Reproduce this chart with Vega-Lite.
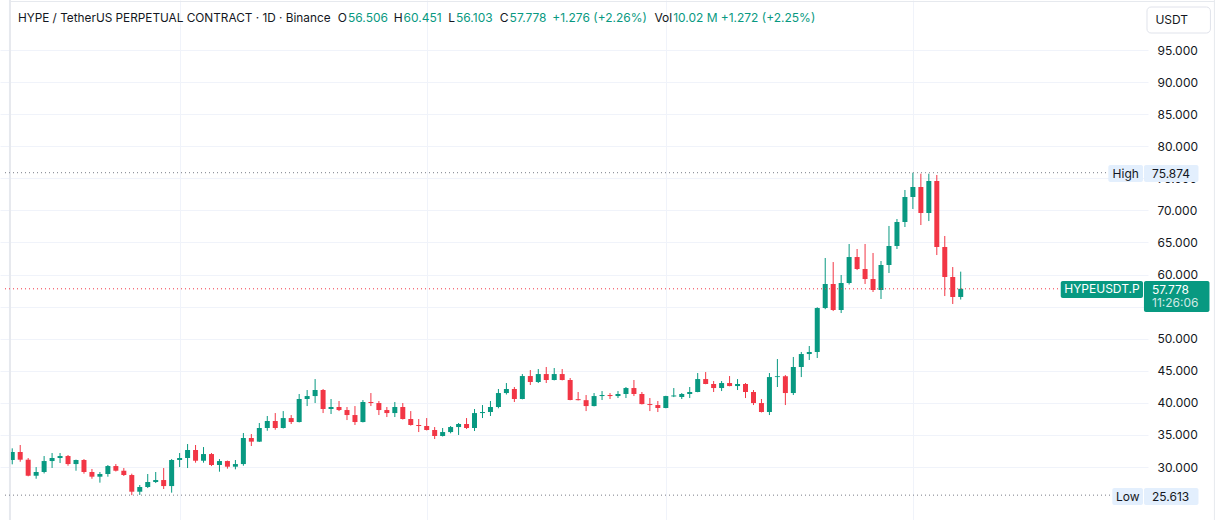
{
  "$schema": "https://vega.github.io/schema/vega-lite/v6.json",
  "width": 1148,
  "height": 520,
  "autosize": {"type": "none"},
  "padding": {"left": 0, "top": 0, "right": 82, "bottom": 0},
  "background": "#ffffff",
  "config": {"view": {"stroke": null}, "text": {"font": "Inter"}},
  "resolve": {"axis": {"x": "independent", "y": "independent"}},
  "datasets": {
    "candles": [
      {"i":1,"o":31.09,"h":32.91,"l":30.42,"c":32.34},
      {"i":2,"o":32.34,"h":33.43,"l":30.82,"c":31.14},
      {"i":3,"o":31.14,"h":31.40,"l":28.55,"c":28.64},
      {"i":4,"o":28.64,"h":29.99,"l":28.17,"c":29.22},
      {"i":5,"o":29.22,"h":31.71,"l":29.00,"c":30.93},
      {"i":6,"o":30.93,"h":32.18,"l":29.85,"c":31.40},
      {"i":7,"o":31.40,"h":32.18,"l":30.62,"c":31.71},
      {"i":8,"o":31.71,"h":31.87,"l":30.20,"c":30.46},
      {"i":9,"o":30.46,"h":31.15,"l":29.42,"c":31.09},
      {"i":10,"o":31.09,"h":31.24,"l":28.96,"c":29.22},
      {"i":11,"o":29.22,"h":29.69,"l":28.17,"c":28.49},
      {"i":12,"o":28.49,"h":29.22,"l":27.56,"c":28.91},
      {"i":13,"o":28.91,"h":30.31,"l":28.49,"c":30.15},
      {"i":14,"o":30.15,"h":30.46,"l":29.30,"c":29.42},
      {"i":15,"o":29.42,"h":29.84,"l":28.60,"c":28.75},
      {"i":16,"o":28.75,"h":28.96,"l":25.613,"c":26.15},
      {"i":17,"o":26.15,"h":27.19,"l":25.65,"c":26.88},
      {"i":18,"o":26.88,"h":28.91,"l":26.72,"c":27.66},
      {"i":19,"o":27.66,"h":29.22,"l":27.50,"c":27.97},
      {"i":20,"o":27.97,"h":29.84,"l":26.57,"c":27.03},
      {"i":21,"o":27.03,"h":31.24,"l":26.00,"c":31.09},
      {"i":22,"o":31.09,"h":32.18,"l":29.99,"c":31.40},
      {"i":23,"o":31.40,"h":33.58,"l":29.84,"c":32.65},
      {"i":24,"o":32.65,"h":33.43,"l":30.67,"c":30.98},
      {"i":25,"o":30.98,"h":33.11,"l":30.67,"c":32.02},
      {"i":26,"o":32.02,"h":32.18,"l":30.15,"c":30.31},
      {"i":27,"o":30.31,"h":31.24,"l":29.27,"c":30.93},
      {"i":28,"o":30.93,"h":31.00,"l":29.74,"c":30.05},
      {"i":29,"o":30.05,"h":31.09,"l":29.64,"c":30.46},
      {"i":30,"o":30.46,"h":35.30,"l":30.20,"c":34.52},
      {"i":31,"o":34.52,"h":35.14,"l":33.27,"c":33.95},
      {"i":32,"o":33.95,"h":36.86,"l":33.90,"c":36.08},
      {"i":33,"o":36.08,"h":37.95,"l":35.65,"c":37.17},
      {"i":34,"o":37.17,"h":38.41,"l":35.81,"c":36.08},
      {"i":35,"o":36.08,"h":38.72,"l":36.00,"c":37.63},
      {"i":36,"o":37.63,"h":38.10,"l":36.70,"c":37.01},
      {"i":37,"o":37.01,"h":41.38,"l":36.95,"c":40.60},
      {"i":38,"o":40.60,"h":42.00,"l":39.50,"c":41.06},
      {"i":39,"o":41.06,"h":43.71,"l":39.97,"c":42.00},
      {"i":40,"o":42.00,"h":42.16,"l":38.41,"c":39.04},
      {"i":41,"o":39.04,"h":40.60,"l":38.26,"c":39.35},
      {"i":42,"o":39.35,"h":40.29,"l":38.72,"c":38.88},
      {"i":43,"o":38.88,"h":39.35,"l":37.32,"c":38.10},
      {"i":44,"o":38.10,"h":39.50,"l":36.55,"c":37.01},
      {"i":45,"o":37.01,"h":40.44,"l":36.95,"c":40.13},
      {"i":46,"o":40.13,"h":41.53,"l":39.50,"c":39.97},
      {"i":47,"o":39.97,"h":40.29,"l":38.10,"c":38.88},
      {"i":48,"o":38.88,"h":39.35,"l":37.79,"c":38.41},
      {"i":49,"o":38.41,"h":40.13,"l":37.79,"c":39.35},
      {"i":50,"o":39.35,"h":39.97,"l":37.40,"c":37.48},
      {"i":51,"o":37.48,"h":38.72,"l":36.45,"c":36.55},
      {"i":52,"o":36.55,"h":37.48,"l":35.45,"c":36.39},
      {"i":53,"o":36.39,"h":37.63,"l":35.70,"c":35.77},
      {"i":54,"o":35.77,"h":36.23,"l":34.36,"c":34.83},
      {"i":55,"o":34.83,"h":36.08,"l":34.76,"c":35.45},
      {"i":56,"o":35.45,"h":36.39,"l":35.25,"c":36.23},
      {"i":57,"o":36.23,"h":36.86,"l":34.99,"c":36.70},
      {"i":58,"o":36.70,"h":37.63,"l":35.92,"c":36.08},
      {"i":59,"o":36.08,"h":39.04,"l":35.61,"c":38.41},
      {"i":60,"o":38.41,"h":39.66,"l":37.63,"c":38.57},
      {"i":61,"o":38.57,"h":40.29,"l":37.95,"c":39.35},
      {"i":62,"o":39.35,"h":42.16,"l":39.15,"c":41.53},
      {"i":63,"o":41.53,"h":43.09,"l":41.30,"c":42.16},
      {"i":64,"o":42.16,"h":42.47,"l":40.13,"c":40.60},
      {"i":65,"o":40.60,"h":44.49,"l":40.55,"c":44.18},
      {"i":66,"o":44.18,"h":45.12,"l":42.78,"c":43.25},
      {"i":67,"o":43.25,"h":45.27,"l":43.09,"c":44.49},
      {"i":68,"o":44.49,"h":45.59,"l":43.09,"c":43.56},
      {"i":69,"o":43.56,"h":45.43,"l":43.50,"c":44.49},
      {"i":70,"o":44.49,"h":45.27,"l":43.50,"c":43.56},
      {"i":71,"o":43.56,"h":43.87,"l":40.40,"c":40.44},
      {"i":72,"o":40.58,"h":41.69,"l":40.38,"c":40.42},
      {"i":73,"o":40.42,"h":41.22,"l":38.72,"c":39.50},
      {"i":74,"o":39.50,"h":41.53,"l":39.45,"c":41.06},
      {"i":75,"o":41.06,"h":41.84,"l":40.44,"c":41.22},
      {"i":76,"o":41.22,"h":41.53,"l":40.60,"c":41.06},
      {"i":77,"o":41.06,"h":41.84,"l":40.75,"c":41.38},
      {"i":78,"o":41.38,"h":42.47,"l":40.75,"c":42.31},
      {"i":79,"o":42.31,"h":43.56,"l":41.06,"c":41.38},
      {"i":80,"o":41.38,"h":41.69,"l":39.75,"c":39.81},
      {"i":81,"o":39.81,"h":40.75,"l":38.72,"c":39.66},
      {"i":82,"o":39.66,"h":40.29,"l":38.57,"c":39.20},
      {"i":83,"o":39.20,"h":41.10,"l":39.15,"c":41.06},
      {"i":84,"o":41.00,"h":42.31,"l":40.90,"c":41.15},
      {"i":85,"o":40.91,"h":41.53,"l":40.60,"c":41.38},
      {"i":86,"o":41.38,"h":42.47,"l":40.75,"c":41.69},
      {"i":87,"o":41.69,"h":44.65,"l":41.65,"c":43.71},
      {"i":88,"o":43.71,"h":44.80,"l":42.90,"c":42.94},
      {"i":89,"o":42.94,"h":43.40,"l":41.69,"c":42.31},
      {"i":90,"o":42.31,"h":43.40,"l":41.84,"c":43.09},
      {"i":91,"o":43.09,"h":44.18,"l":42.58,"c":42.62},
      {"i":92,"o":42.62,"h":43.71,"l":42.00,"c":42.94},
      {"i":93,"o":42.94,"h":43.09,"l":40.75,"c":41.69},
      {"i":94,"o":41.69,"h":42.00,"l":39.66,"c":39.97},
      {"i":95,"o":39.97,"h":40.60,"l":38.50,"c":38.57},
      {"i":96,"o":38.57,"h":44.65,"l":38.10,"c":44.02},
      {"i":97,"o":44.02,"h":46.83,"l":42.47,"c":44.15},
      {"i":98,"o":44.15,"h":44.33,"l":39.66,"c":41.53},
      {"i":99,"o":41.53,"h":47.15,"l":41.22,"c":45.59},
      {"i":100,"o":45.59,"h":47.93,"l":44.02,"c":47.61},
      {"i":101,"o":47.61,"h":48.86,"l":46.68,"c":47.93},
      {"i":102,"o":47.93,"h":54.90,"l":46.99,"c":54.78},
      {"i":103,"o":54.78,"h":62.58,"l":54.60,"c":58.53},
      {"i":104,"o":58.53,"h":61.95,"l":54.31,"c":54.47},
      {"i":105,"o":54.47,"h":59.93,"l":54.00,"c":58.68},
      {"i":106,"o":58.68,"h":64.76,"l":58.45,"c":62.73},
      {"i":107,"o":62.73,"h":63.98,"l":60.70,"c":60.86},
      {"i":108,"o":60.86,"h":64.76,"l":58.53,"c":59.30},
      {"i":109,"o":59.30,"h":63.36,"l":57.28,"c":57.59},
      {"i":110,"o":57.59,"h":62.11,"l":56.19,"c":61.49},
      {"i":111,"o":61.49,"h":67.57,"l":60.24,"c":64.45},
      {"i":112,"o":64.45,"h":68.66,"l":63.98,"c":68.19},
      {"i":113,"o":68.19,"h":73.18,"l":67.41,"c":72.09},
      {"i":114,"o":72.09,"h":75.874,"l":70.22,"c":73.65},
      {"i":115,"o":73.65,"h":75.72,"l":67.72,"c":69.59},
      {"i":116,"o":69.59,"h":75.72,"l":68.34,"c":74.58},
      {"i":117,"o":74.58,"h":75.52,"l":63.04,"c":64.29},
      {"i":118,"o":64.29,"h":66.01,"l":56.65,"c":59.62},
      {"i":119,"o":59.62,"h":61.17,"l":55.41,"c":56.502},
      {"i":120,"o":56.506,"h":60.451,"l":56.103,"c":57.778}
    ]
  },
  "data": {"name": "candles"},
  "layer": [
    {
      "mark": {"type": "rule", "strokeWidth": 1},
      "encoding": {
        "x": {"field": "i", "type": "quantitative", "title": null,
              "scale": {"domain": [0.092, 142.87], "nice": false, "zero": false},
              "axis": {"values": [22, 53, 83, 114], "labels": false, "ticks": false, "domain": false, "grid": true, "gridColor": "#f0f3fa", "gridWidth": 1, "title": null}},
        "y": {"field": "h", "type": "quantitative", "title": null,
              "scale": {"domain": [21.74, 102.794], "nice": false, "zero": false},
              "axis": {"orient": "right", "values": [30,35,40,45,50,55,60,65,70,75,80,85,90,95], "labelExpr": "datum.value == 55 ? '' : format(datum.value, '.3f')", "title": null, "ticks": false, "domain": false, "labelPadding": 9, "labelFontSize": 12, "labelFont": "Inter", "labelColor": "#131722", "labelAlign": "left", "labelBaseline": "middle", "labelOverlap": false, "labelFlush": false, "grid": true, "gridColor": "#f0f3fa", "gridWidth": 1}},
        "y2": {"field": "l"},
        "color": {"condition": {"test": "datum.c >= datum.o", "value": "#089981"}, "value": "#f23645"}
      }
    },
    {
      "mark": {"type": "bar", "width": 5},
      "encoding": {
        "x": {"field": "i", "type": "quantitative", "title": null, "axis": null},
        "y": {"field": "o", "type": "quantitative", "title": null, "axis": null},
        "y2": {"field": "c"},
        "color": {"condition": {"test": "datum.c >= datum.o", "value": "#089981"}, "value": "#f23645"}
      }
    },
    {
      "data": {"values": [{}]},
      "mark": {"type": "rule", "color": "#e6e9ee", "strokeWidth": 2},
      "encoding": {
        "x": {"datum": 0.714, "type": "quantitative", "axis": null},
        "y": {"datum": 21.74, "type": "quantitative", "axis": null},
        "y2": {"datum": 102.794}
      }
    },
    {
      "data": {"values": [{}]},
      "mark": {"type": "rule", "color": "#e6e9ee", "strokeWidth": 1},
      "encoding": {
        "x": {"datum": 151.83, "type": "quantitative", "axis": null},
        "y": {"datum": 21.74, "type": "quantitative", "axis": null},
        "y2": {"datum": 102.794}
      }
    },
    {
      "data": {"values": [{}]},
      "mark": {"type": "rule", "color": "#e6e9ee", "strokeWidth": 1},
      "encoding": {
        "x": {"datum": 0.714, "type": "quantitative", "axis": null},
        "x2": {"datum": 151.83},
        "y": {"datum": 102.56, "type": "quantitative", "axis": null}
      }
    },
    {
      "transform": [{"aggregate": [{"op": "max", "field": "h", "as": "hi"}, {"op": "min", "field": "l", "as": "lo"}]}],
      "layer": [
        {
          "mark": {"type": "rule", "color": "#787b86", "strokeDash": [1, 3], "strokeWidth": 1},
          "encoding": {
            "x": {"datum": 0.092, "type": "quantitative", "axis": null},
            "x2": {"datum": 138.52},
            "y": {"field": "hi", "type": "quantitative", "title": null, "axis": null}
          }
        },
        {
          "mark": {"type": "rule", "color": "#787b86", "strokeDash": [1, 3], "strokeWidth": 1},
          "encoding": {
            "x": {"datum": 0.092, "type": "quantitative", "axis": null},
            "x2": {"datum": 139.02},
            "y": {"field": "lo", "type": "quantitative", "title": null, "axis": null}
          }
        },
        {
          "mark": {"type": "rect", "color": "#e3effd", "cornerRadius": 2},
          "encoding": {
            "x": {"datum": 138.52, "type": "quantitative", "axis": null},
            "x2": {"datum": 142.87},
            "y": {"datum": 77.07, "type": "quantitative", "axis": null},
            "y2": {"datum": 74.42}
          }
        },
        {
          "mark": {"type": "rect", "color": "#e3effd", "cornerRadius": 2},
          "encoding": {
            "x": {"datum": 142.99, "type": "quantitative", "axis": null},
            "x2": {"datum": 149.83},
            "y": {"datum": 77.07, "type": "quantitative", "axis": null},
            "y2": {"datum": 74.42}
          }
        },
        {
          "mark": {"type": "rect", "color": "#e3effd", "cornerRadius": 2},
          "encoding": {
            "x": {"datum": 139.02, "type": "quantitative", "axis": null},
            "x2": {"datum": 142.87},
            "y": {"datum": 26.72, "type": "quantitative", "axis": null},
            "y2": {"datum": 24.07}
          }
        },
        {
          "mark": {"type": "rect", "color": "#e3effd", "cornerRadius": 2},
          "encoding": {
            "x": {"datum": 142.99, "type": "quantitative", "axis": null},
            "x2": {"datum": 149.83},
            "y": {"datum": 26.72, "type": "quantitative", "axis": null},
            "y2": {"datum": 24.07}
          }
        },
        {
          "mark": {"type": "text", "align": "center", "baseline": "middle", "fontSize": 12, "color": "#131722"},
          "encoding": {
            "x": {"datum": 140.70, "type": "quantitative", "axis": null},
            "y": {"datum": 75.75, "type": "quantitative", "axis": null},
            "text": {"value": "High"}
          }
        },
        {
          "mark": {"type": "text", "align": "left", "baseline": "middle", "fontSize": 12, "color": "#131722"},
          "encoding": {
            "x": {"datum": 144.0, "type": "quantitative", "axis": null},
            "y": {"datum": 75.75, "type": "quantitative", "axis": null},
            "text": {"field": "hi", "type": "quantitative", "format": ".3f"}
          }
        },
        {
          "mark": {"type": "text", "align": "center", "baseline": "middle", "fontSize": 12, "color": "#131722"},
          "encoding": {
            "x": {"datum": 140.95, "type": "quantitative", "axis": null},
            "y": {"datum": 25.40, "type": "quantitative", "axis": null},
            "text": {"value": "Low"}
          }
        },
        {
          "mark": {"type": "text", "align": "left", "baseline": "middle", "fontSize": 12, "color": "#131722"},
          "encoding": {
            "x": {"datum": 144.0, "type": "quantitative", "axis": null},
            "y": {"datum": 25.40, "type": "quantitative", "axis": null},
            "text": {"field": "lo", "type": "quantitative", "format": ".3f"}
          }
        }
      ]
    },
    {
      "transform": [{"filter": "datum.i == 120"}],
      "layer": [
        {
          "mark": {"type": "rule", "color": "#f23645", "strokeDash": [1, 3], "strokeWidth": 1},
          "encoding": {
            "x": {"datum": 0.092, "type": "quantitative", "axis": null},
            "x2": {"datum": 132.55},
            "y": {"field": "c", "type": "quantitative", "title": null, "axis": null}
          }
        },
        {
          "mark": {"type": "rect", "color": "#089981", "cornerRadius": 2},
          "encoding": {
            "x": {"datum": 132.55, "type": "quantitative", "axis": null},
            "x2": {"datum": 142.87},
            "y": {"datum": 58.99, "type": "quantitative", "axis": null},
            "y2": {"datum": 56.34}
          }
        },
        {
          "mark": {"type": "rect", "color": "#089981", "cornerRadius": 2},
          "encoding": {
            "x": {"datum": 142.99, "type": "quantitative", "axis": null},
            "x2": {"datum": 151.21},
            "y": {"datum": 58.99, "type": "quantitative", "axis": null},
            "y2": {"datum": 54.16}
          }
        },
        {
          "mark": {"type": "text", "align": "center", "baseline": "middle", "fontSize": 12, "color": "#ffffff"},
          "encoding": {
            "x": {"datum": 137.72, "type": "quantitative", "axis": null},
            "y": {"datum": 57.67, "type": "quantitative", "axis": null},
            "text": {"value": "HYPEUSDT.P"}
          }
        },
        {
          "mark": {"type": "text", "align": "left", "baseline": "middle", "fontSize": 12, "color": "#ffffff"},
          "encoding": {
            "x": {"datum": 144.0, "type": "quantitative", "axis": null},
            "y": {"datum": 57.59, "type": "quantitative", "axis": null},
            "text": {"field": "c", "type": "quantitative", "format": ".3f"}
          }
        },
        {
          "mark": {"type": "text", "align": "left", "baseline": "middle", "fontSize": 12, "color": "#ffffff", "opacity": 0.8},
          "encoding": {
            "x": {"datum": 144.0, "type": "quantitative", "axis": null},
            "y": {"datum": 55.49, "type": "quantitative", "axis": null},
            "text": {"value": "11:26:06"}
          }
        },
        {
          "mark": {"type": "text", "align": "left", "baseline": "middle", "fontSize": 12, "color": "#089981"},
          "encoding": {
            "x": {"datum": 43.13, "type": "quantitative", "axis": null},
            "y": {"datum": 99.99, "type": "quantitative", "axis": null},
            "text": {"field": "o", "type": "quantitative", "format": ".3f"}
          }
        },
        {
          "mark": {"type": "text", "align": "left", "baseline": "middle", "fontSize": 12, "color": "#089981"},
          "encoding": {
            "x": {"datum": 50.09, "type": "quantitative", "axis": null},
            "y": {"datum": 99.99, "type": "quantitative", "axis": null},
            "text": {"field": "h", "type": "quantitative", "format": ".3f"}
          }
        },
        {
          "mark": {"type": "text", "align": "left", "baseline": "middle", "fontSize": 12, "color": "#089981"},
          "encoding": {
            "x": {"datum": 56.68, "type": "quantitative", "axis": null},
            "y": {"datum": 99.99, "type": "quantitative", "axis": null},
            "text": {"field": "l", "type": "quantitative", "format": ".3f"}
          }
        },
        {
          "mark": {"type": "text", "align": "left", "baseline": "middle", "fontSize": 12, "color": "#089981"},
          "encoding": {
            "x": {"datum": 63.40, "type": "quantitative", "axis": null},
            "y": {"datum": 99.99, "type": "quantitative", "axis": null},
            "text": {"field": "c", "type": "quantitative", "format": ".3f"}
          }
        }
      ]
    },
    {
      "data": {"values": [{}]},
      "layer": [
        {
          "mark": {"type": "rect", "fill": "#ffffff", "stroke": "#e0e3eb", "strokeWidth": 1, "cornerRadius": 4},
          "encoding": {
            "x": {"datum": 143.37, "type": "quantitative", "axis": null},
            "x2": {"datum": 151.33},
            "y": {"datum": 101.70, "type": "quantitative", "axis": null},
            "y2": {"datum": 97.65}
          }
        },
        {
          "mark": {"type": "text", "align": "center", "baseline": "middle", "fontSize": 12, "color": "#131722"},
          "encoding": {
            "x": {"datum": 146.48, "type": "quantitative", "axis": null},
            "y": {"datum": 99.68, "type": "quantitative", "axis": null},
            "text": {"value": "USDT"}
          }
        },
        {
          "mark": {"type": "text", "align": "left", "baseline": "middle", "fontSize": 11.8, "color": "#131722"},
          "encoding": {
            "x": {"datum": 1.709, "type": "quantitative", "axis": null},
            "y": {"datum": 99.99, "type": "quantitative", "axis": null},
            "text": {"value": "HYPE / TetherUS PERPETUAL CONTRACT · 1D · Binance"}
          }
        },
        {
          "mark": {"type": "text", "align": "right", "baseline": "middle", "fontSize": 12, "color": "#131722"},
          "encoding": {
            "x": {"datum": 43.00, "type": "quantitative", "axis": null},
            "y": {"datum": 99.99, "type": "quantitative", "axis": null},
            "text": {"value": "O"}
          }
        },
        {
          "mark": {"type": "text", "align": "right", "baseline": "middle", "fontSize": 12, "color": "#131722"},
          "encoding": {
            "x": {"datum": 49.97, "type": "quantitative", "axis": null},
            "y": {"datum": 99.99, "type": "quantitative", "axis": null},
            "text": {"value": "H"}
          }
        },
        {
          "mark": {"type": "text", "align": "right", "baseline": "middle", "fontSize": 12, "color": "#131722"},
          "encoding": {
            "x": {"datum": 56.56, "type": "quantitative", "axis": null},
            "y": {"datum": 99.99, "type": "quantitative", "axis": null},
            "text": {"value": "L"}
          }
        },
        {
          "mark": {"type": "text", "align": "right", "baseline": "middle", "fontSize": 12, "color": "#131722"},
          "encoding": {
            "x": {"datum": 63.28, "type": "quantitative", "axis": null},
            "y": {"datum": 99.99, "type": "quantitative", "axis": null},
            "text": {"value": "C"}
          }
        },
        {
          "mark": {"type": "text", "align": "left", "baseline": "middle", "fontSize": 12, "color": "#089981"},
          "encoding": {
            "x": {"datum": 68.75, "type": "quantitative", "axis": null},
            "y": {"datum": 99.99, "type": "quantitative", "axis": null},
            "text": {"value": "+1.276 (+2.26%)"}
          }
        },
        {
          "mark": {"type": "text", "align": "right", "baseline": "middle", "fontSize": 12, "color": "#131722"},
          "encoding": {
            "x": {"datum": 83.80, "type": "quantitative", "axis": null},
            "y": {"datum": 99.99, "type": "quantitative", "axis": null},
            "text": {"value": "Vol"}
          }
        },
        {
          "mark": {"type": "text", "align": "left", "baseline": "middle", "fontSize": 12, "color": "#089981"},
          "encoding": {
            "x": {"datum": 83.92, "type": "quantitative", "axis": null},
            "y": {"datum": 99.99, "type": "quantitative", "axis": null},
            "text": {"value": "10.02 M"}
          }
        },
        {
          "mark": {"type": "text", "align": "left", "baseline": "middle", "fontSize": 12, "color": "#089981"},
          "encoding": {
            "x": {"datum": 89.89, "type": "quantitative", "axis": null},
            "y": {"datum": 99.99, "type": "quantitative", "axis": null},
            "text": {"value": "+1.272 (+2.25%)"}
          }
        }
      ]
    }
  ]
}
